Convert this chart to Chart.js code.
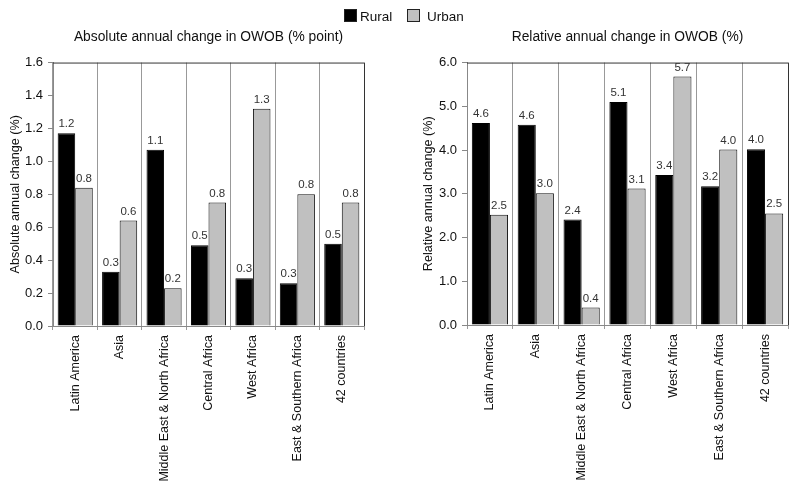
<!DOCTYPE html>
<html>
<head>
<meta charset="UTF-8">
<script src="https://cdn.jsdelivr.net/npm/chart.js"></script>
<style>
  body { margin: 0; background: #fff; font-family: 'Liberation Sans', Arial, sans-serif; }
  #wrap { position: relative; width: 800px; height: 494px; }
  .box { position: absolute; top: 0; width: 400px; height: 494px; }
  #legend { position: absolute; top: 9px; left: 344px; font-size: 13.5px; color: #111; white-space: nowrap; }
  #legend span.sw { display: inline-block; width: 11px; height: 11px; border: 1px solid #222; vertical-align: -1px; margin-right: 3px; }
</style>
</head>
<body>
<div id="wrap">
  <div class="box" style="left:0"><canvas id="absChart" width="400" height="494"></canvas></div>
  <div class="box" style="left:400px"><canvas id="relChart" width="400" height="494"></canvas></div>
  <div id="legend"><span class="sw" style="background:#000"></span>Rural<span style="display:inline-block;width:15px"></span><span class="sw" style="background:#c0c0c0"></span> Urban</div>
</div>
<script>
// regions on the x axis
const regions = ['Latin America', 'Asia', 'Middle East & North Africa', 'Central Africa', 'West Africa', 'East & Southern Africa', '42 countries'];

// absolute annual change in OWOB (% point)
const absRural = [1.17, 0.33, 1.07, 0.49, 0.29, 0.26, 0.50];
const absUrban = [0.84, 0.64, 0.23, 0.75, 1.32, 0.80, 0.75];

// relative annual change in OWOB (%)
const relRural = [4.62, 4.58, 2.41, 5.10, 3.43, 3.17, 4.02];
const relUrban = [2.52, 3.01, 0.40, 3.12, 5.68, 4.01, 2.55];

const FONT = "'Liberation Sans', Arial, sans-serif";

// values printed above each bar
const barLabels = {
    id: 'barLabels',
    afterDatasetsDraw(chart) {
        const ctx = chart.ctx;
        ctx.save();
        ctx.font = '11.5px ' + FONT;
        ctx.fillStyle = '#333';
        ctx.textAlign = 'center';
        ctx.textBaseline = 'alphabetic';
        chart.data.datasets.forEach((ds, i) => {
            chart.getDatasetMeta(i).data.forEach((bar, j) => {
                ctx.fillText(ds.data[j].toFixed(1), bar.x, bar.y - 6);
            });
        });
        ctx.restore();
    }
};

// dark top and right edge of the plot box
const plotFrame = {
    id: 'plotFrame',
    afterDraw(chart) {
        const a = chart.chartArea, ctx = chart.ctx;
        ctx.save();
        ctx.strokeStyle = '#333';
        ctx.lineWidth = 1;
        ctx.beginPath();
        ctx.moveTo(a.left, a.top + 0.5);
        ctx.lineTo(a.right + 0.5, a.top + 0.5);
        ctx.lineTo(a.right + 0.5, a.bottom);
        ctx.stroke();
        ctx.restore();
    }
};

function makeChart(id, rural, urban, cfg) {
    return new Chart(document.getElementById(id), {
        type: 'bar',
        data: {
            labels: regions,
            datasets: [
                { label: 'Rural', data: rural, backgroundColor: '#000', borderColor: '#000', borderWidth: 1 },
                { label: 'Urban', data: urban, backgroundColor: '#c0c0c0', borderColor: '#111', borderWidth: 1 }
            ]
        },
        options: {
            responsive: false,
            animation: false,
            layout: { padding: { left: 0, right: cfg.padRight, top: 0, bottom: 0 } },
            categoryPercentage: 0.79,
            barPercentage: 1.0,
            plugins: {
                legend: { display: false },
                tooltip: { enabled: false },
                title: {
                    display: true,
                    fullSize: false,
                    text: cfg.title,
                    color: '#111',
                    font: { family: FONT, size: 13.8, weight: 'normal' },
                    padding: { top: 29, bottom: 17 }
                }
            },
            scales: {
                x: {
                    grid: { offset: true, color: '#999', drawTicks: true, tickLength: 4 },
                    border: { color: '#888' },
                    ticks: {
                        minRotation: 90, maxRotation: 90, autoSkip: false, padding: 5,
                        color: '#111', font: { family: FONT, size: 12.5 }
                    },
                    afterFit(s) { s.height = cfg.xHeight; }
                },
                y: {
                    min: 0, max: cfg.max,
                    grid: { drawOnChartArea: false, drawTicks: true, tickLength: 5, color: '#888' },
                    border: { color: '#888' },
                    ticks: {
                        stepSize: cfg.step, padding: 5, color: '#111',
                        font: { family: FONT, size: 13 },
                        callback: v => v.toFixed(1)
                    },
                    title: {
                        display: true, text: cfg.yTitle, color: '#111',
                        font: { family: FONT, size: 12.6 },
                        padding: { top: cfg.yTitlePad, bottom: 0 }
                    },
                    afterFit(s) { s.width = cfg.yWidth; }
                }
            }
        },
        plugins: [barLabels, plotFrame]
    });
}

makeChart('absChart', absRural, absUrban, {
    title: 'Absolute annual change in OWOB (% point)',
    yTitle: 'Absolute annual change (%)',
    max: 1.6, step: 0.2, padRight: 36, yWidth: 53, yTitlePad: 8, xHeight: 168
});

makeChart('relChart', relRural, relUrban, {
    title: 'Relative annual change in OWOB (%)',
    yTitle: 'Relative annual change (%)',
    max: 6.0, step: 1.0, padRight: 12, yWidth: 67, yTitlePad: 21, xHeight: 169
});
</script>
</body>
</html>
